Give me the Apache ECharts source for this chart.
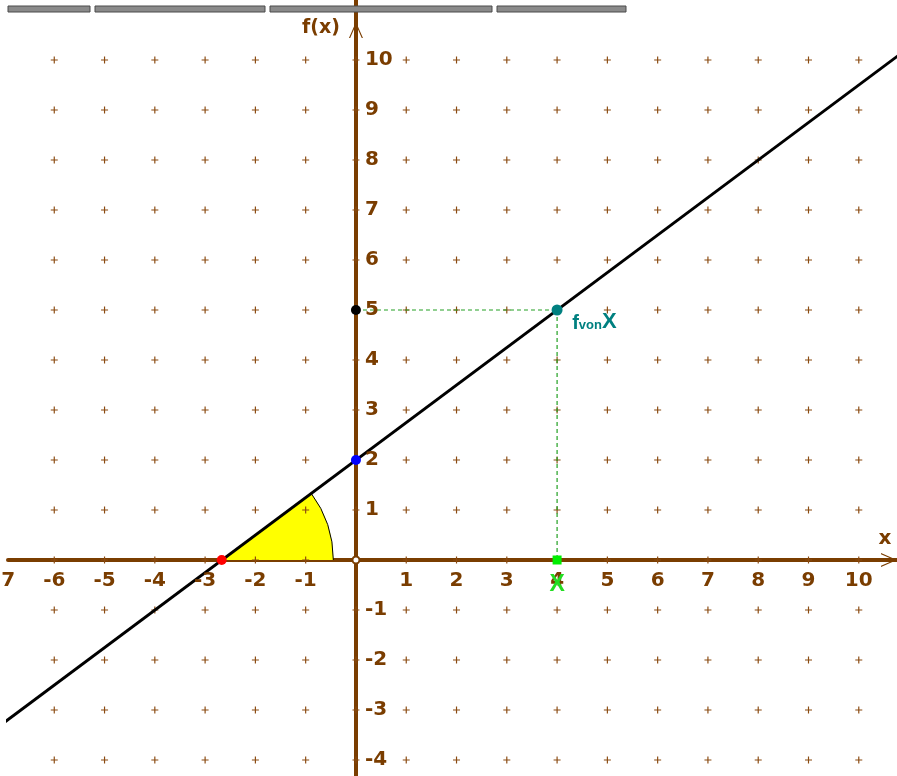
<!DOCTYPE html>
<html>
<head>
<meta charset="utf-8">
<script src="https://cdn.jsdelivr.net/npm/echarts@6/dist/echarts.min.js"></script>
<style>
html,body{margin:0;padding:0;background:#fff;}
#chart{width:897px;height:776px;}
</style>
</head>
<body>
<div id="chart"></div>
<script>
// ---- data ----
const xTickLabels = [-7,-6,-5,-4,-3,-2,-1,1,2,3,4,5,6,7,8,9,10];
const yTickLabels = [-4,-3,-2,-1,1,2,3,4,5,6,7,8,9,10];
const gridXs = [-6,-5,-4,-3,-2,-1,0,1,2,3,4,5,6,7,8,9,10];
const gridYs = [-4,-3,-2,-1,0,1,2,3,4,5,6,7,8,9,10];
// straight line f(x), read at the picture edges
const lineF = [[-7.3,-3.48],[11.0,10.25]];
// points
const rootPoint = [-2.67, 0];
const interceptPoint = [0, 2];
const yMarkPoint = [0, 5];
const fvonXPoint = [4, 5];
const xPoint = [4, 0];
const originPoint = [0, 0];
// dashed helper lines
const dashH = [[0,5],[4,5]];
const dashV = [[4,5],[4,0]];
// angle sector: [cx, cy, radius, startDeg, endDeg]
const angleSector = [-2.67, 0, 2.22, 0, 36.87];
// text annotations
const annFx = [-0.32, 10.64];
const annX = [10.52, 0.42];
const annGreenX = [4, -0.5];
const annFvonX = [4.3, 4.76];

const BROWN = '#7a3d00';
const chevron = 'path://M7,0 L14,16 L12.8,16 L7,2.8 L1.2,16 L0,16 Z';

const plusPts = [];
gridXs.forEach(x => gridYs.forEach(y => plusPts.push([x, y])));
const xLabelPts = xTickLabels.map(v => [v, 0]);
const yLabelPts = yTickLabels.map(v => [0, v]);

const chart = echarts.init(document.getElementById('chart'));
const tickFont = {show: true, color: BROWN, fontWeight: 'bold', fontSize: 20, fontFamily: 'DejaVu Sans'};
const solid = {opacity: 1};

chart.setOption({
  animation: false,
  backgroundColor: '#fff',
  grid: {left: 8, right: 0, top: 0, bottom: 0, containLabel: false, outerBoundsMode: 'none'},
  xAxis: {
    type: 'value', min: -6.92, max: 10.76,
    axisLine: {onZero: true, lineStyle: {color: BROWN, width: 4},
      symbol: ['none', chevron], symbolSize: [14, 16], symbolOffset: [0, -8]},
    axisTick: {show: false},
    splitLine: {show: false},
    axisLabel: {show: false}
  },
  yAxis: {
    type: 'value', min: -4.32, max: 11.2,
    axisLine: {onZero: true, lineStyle: {color: BROWN, width: 4},
      symbol: ['none', chevron], symbolSize: [14, 16], symbolOffset: [0, -30]},
    axisTick: {show: false},
    splitLine: {show: false},
    axisLabel: {show: false}
  },
  graphic: [
    {type: 'rect', shape: {x: 8, y: 6, width: 82, height: 6}, style: {fill: '#8a8a8a', stroke: '#4a4a4a', lineWidth: 1}, z: 100},
    {type: 'rect', shape: {x: 95, y: 6, width: 170, height: 6}, style: {fill: '#8a8a8a', stroke: '#4a4a4a', lineWidth: 1}, z: 100},
    {type: 'rect', shape: {x: 270, y: 6, width: 222, height: 6}, style: {fill: '#8a8a8a', stroke: '#4a4a4a', lineWidth: 1}, z: 100},
    {type: 'rect', shape: {x: 497, y: 6, width: 129, height: 6}, style: {fill: '#8a8a8a', stroke: '#4a4a4a', lineWidth: 1}, z: 100}
  ],
  series: [
    {
      type: 'custom', z: 1, silent: true,
      data: [angleSector],
      renderItem: function (params, api) {
        const c = api.coord([api.value(0), api.value(1)]);
        const r = api.size([api.value(2), 0])[0];
        const a0 = api.value(3) * Math.PI / 180, a1 = api.value(4) * Math.PI / 180;
        return {type: 'group', children: [
          {type: 'sector', shape: {cx: c[0], cy: c[1], r: r, r0: 0, startAngle: -a1, endAngle: -a0}, style: {fill: '#ffff00'}},
          {type: 'arc', shape: {cx: c[0], cy: c[1], r: r, startAngle: -a1, endAngle: -a0}, style: {stroke: '#000', fill: null, lineWidth: 1}}
        ]};
      }
    },
    {
      type: 'scatter', z: 2, silent: true,
      data: plusPts,
      symbol: 'path://M0,2.5h6v1h-6zM2.5,0h1v6h-1z', symbolSize: 7,
      itemStyle: {color: '#8a4a10', opacity: 1}
    },
    {
      type: 'line', z: 3, silent: true, data: lineF, showSymbol: false, symbol: 'none',
      lineStyle: {color: '#000', width: 3}
    },
    {
      type: 'line', z: 4, silent: true, data: dashH, symbol: 'none',
      lineStyle: {color: '#22a022', width: 1.2, type: [4, 3]}
    },
    {
      type: 'line', z: 4, silent: true, data: dashV, symbol: 'none',
      lineStyle: {color: '#22a022', width: 1.2, type: [4, 3]}
    },
    {type: 'scatter', z: 5, silent: true, data: [originPoint], symbol: 'emptyCircle', symbolSize: 7, itemStyle: {color: BROWN, borderColor: BROWN, borderWidth: 1, opacity: 1}},
    {type: 'scatter', z: 6, silent: true, data: [rootPoint], symbolSize: 10, itemStyle: {color: '#ff0000', opacity: 1}},
    {type: 'scatter', z: 6, silent: true, data: [interceptPoint], symbolSize: 10, itemStyle: {color: '#0000ff', opacity: 1}},
    {type: 'scatter', z: 6, silent: true, data: [yMarkPoint], symbolSize: 10, itemStyle: {color: '#000000', opacity: 1}},
    {type: 'scatter', z: 6, silent: true, data: [fvonXPoint], symbolSize: 11, itemStyle: {color: '#008080', opacity: 1}},
    {type: 'scatter', z: 6, silent: true, data: [xPoint], symbol: 'rect', symbolSize: 9, itemStyle: {color: '#00ee00', opacity: 1}},
    {
      type: 'scatter', z: 7, silent: true, clip: false, symbolSize: 0, data: xLabelPts, itemStyle: solid,
      label: Object.assign({position: 'bottom', distance: 11, formatter: p => String(p.value[0])}, tickFont)
    },
    {
      type: 'scatter', z: 7, silent: true, clip: false, symbolSize: 0, data: yLabelPts, itemStyle: solid,
      label: Object.assign({position: 'right', distance: 9, formatter: p => String(p.value[1])}, tickFont)
    },
    {
      type: 'scatter', z: 8, silent: true, clip: false, symbolSize: 0, itemStyle: solid,
      data: [
        {value: annFx, label: {show: true, formatter: 'f(x)', position: 'left', distance: 0, color: BROWN, fontWeight: 'bold', fontSize: 19, fontFamily: 'DejaVu Sans'}},
        {value: annX, label: {show: true, formatter: 'x', position: 'inside', color: BROWN, fontWeight: 'bold', fontSize: 20, fontFamily: 'DejaVu Sans'}},
        {value: annGreenX, label: {show: true, formatter: 'X', position: 'inside', color: '#22dd22', fontWeight: 'bold', fontSize: 23, fontFamily: 'Liberation Sans'}},
        {value: annFvonX, label: {show: true, formatter: '{a|f}{b|von}{c|X}', position: 'right', distance: 0,
          rich: {
            a: {color: '#008080', fontWeight: 'bold', fontSize: 20, fontFamily: 'Liberation Sans', verticalAlign: 'bottom'},
            b: {color: '#008080', fontWeight: 'bold', fontSize: 13, fontFamily: 'Liberation Sans', verticalAlign: 'bottom', padding: [0, 0, 1, 0]},
            c: {color: '#008080', fontWeight: 'bold', fontSize: 22, fontFamily: 'Liberation Sans', verticalAlign: 'bottom'}
          }}}
      ]
    }
  ]
});
</script>
</body>
</html>
